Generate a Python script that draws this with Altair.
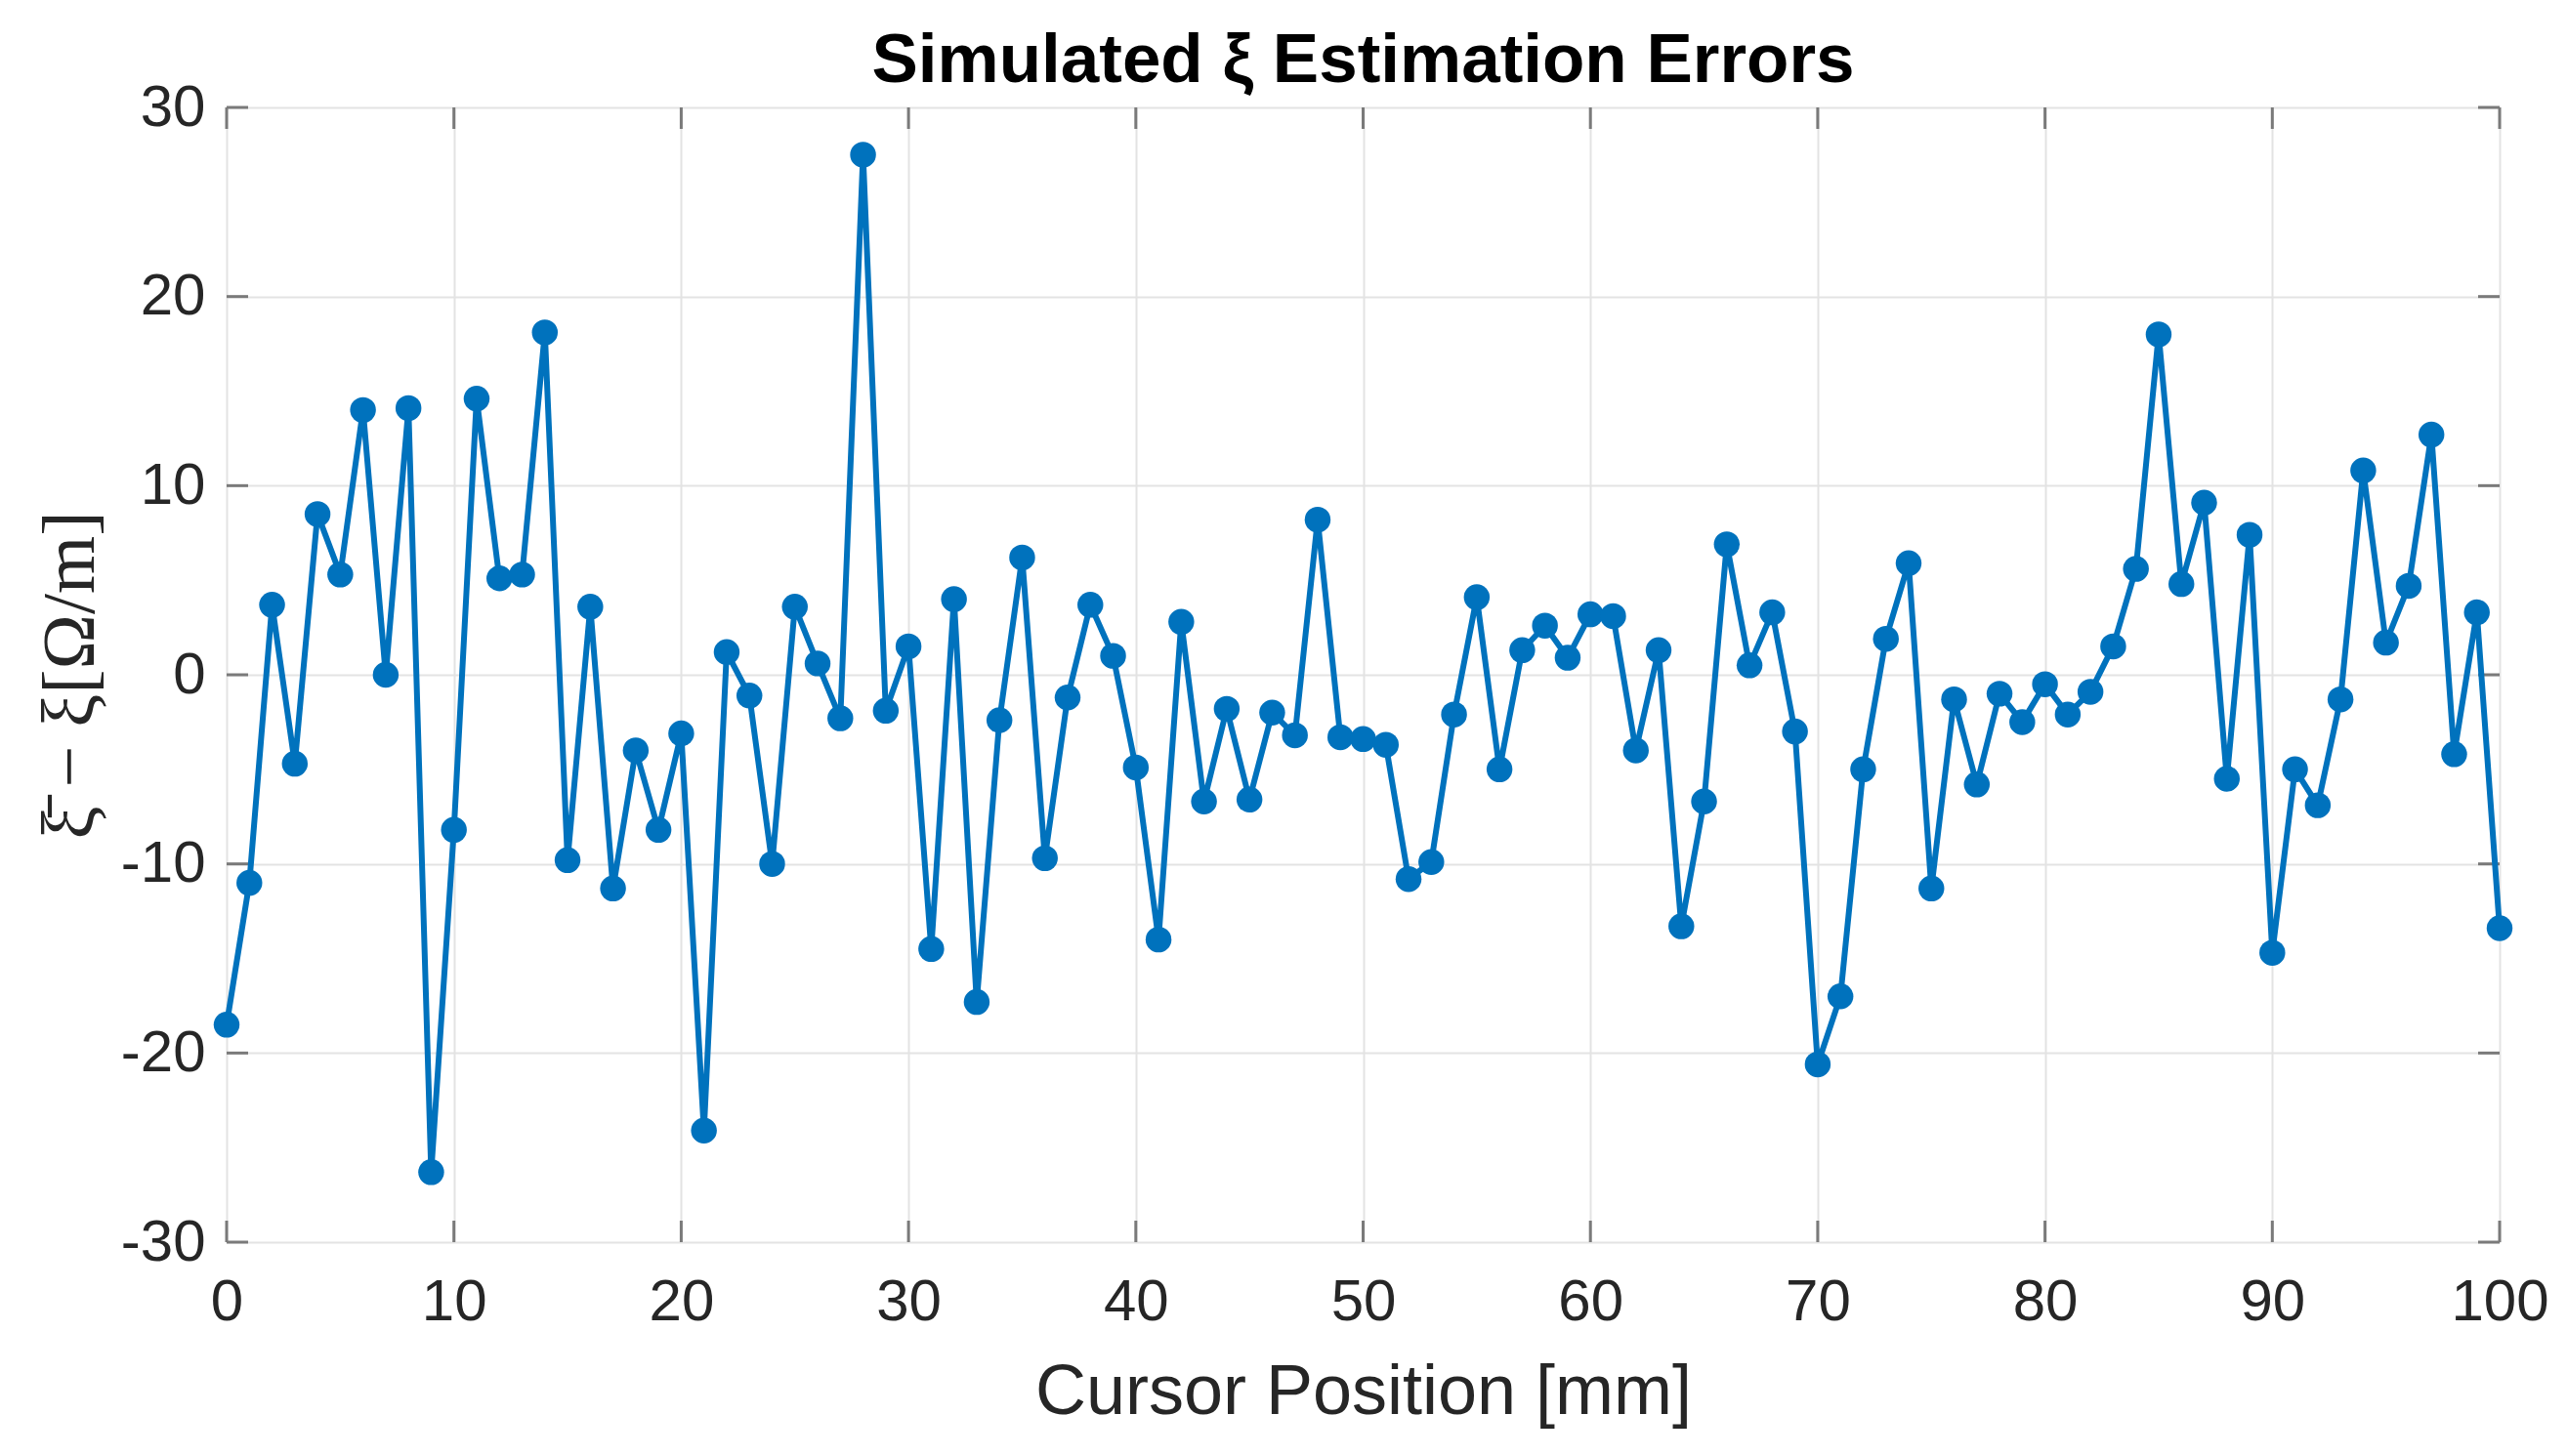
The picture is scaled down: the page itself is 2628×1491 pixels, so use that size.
import altair as alt
import pandas as pd

positions = list(range(0, 101))
errors = [
    -18.5, -11.0, 3.7, -4.7, 8.5, 5.3, 14.0, 0.0, 14.1, -26.3,
    -8.2, 14.6, 5.1, 5.3, 18.1, -9.8, 3.6, -11.3, -4.0, -8.2,
    -3.1, -24.1, 1.2, -1.1, -10.0, 3.6, 0.6, -2.3, 27.5, -1.9,
    1.5, -14.5, 4.0, -17.3, -2.4, 6.2, -9.7, -1.2, 3.7, 1.0,
    -4.9, -14.0, 2.8, -6.7, -1.8, -6.6, -2.0, -3.2, 8.2, -3.3,
    -3.4, -3.7, -10.8, -9.9, -2.1, 4.1, -5.0, 1.3, 2.6, 0.9,
    3.2, 3.1, -4.0, 1.3, -13.3, -6.7, 6.9, 0.5, 3.3, -3.0,
    -20.6, -17.0, -5.0, 1.9, 5.9, -11.3, -1.3, -5.8, -1.0, -2.5,
    -0.5, -2.1, -0.9, 1.5, 5.6, 18.0, 4.8, 9.1, -5.5, 7.4,
    -14.7, -5.0, -6.9, -1.3, 10.8, 1.7, 4.7, 12.7, -4.2, 3.3,
    -13.4,
]
x_ticks = list(range(0, 101, 10))
y_ticks = list(range(-30, 31, 10))
title_text = ["Simulated ξ Estimation Errors"]

W, H = 2327, 1162
TICK = 22
BLUE = "#0072BD"
FRAME = "#7a7a7a"

df = pd.DataFrame({"pos": positions, "err": errors})
xt = pd.DataFrame({"t": x_ticks})
yt = pd.DataFrame({"t": y_ticks})
tdf = pd.DataFrame({"title": title_text})

xscale = alt.Scale(domain=[0, 100], nice=False, zero=False)
yscale = alt.Scale(domain=[-30, 30], nice=False, zero=False)

x_enc = alt.X(
    "pos:Q", scale=xscale,
    axis=alt.Axis(
        values=x_ticks, title="Cursor Position [mm]", ticks=False, domain=False,
        grid=True, gridColor="#e3e3e3", gridWidth=2,
        labelFont="Liberation Sans", labelFontSize=60, labelColor="#262626",
        labelPadding=32, titleFont="Liberation Sans", titleFontSize=72,
        titleFontWeight="normal", titleColor="#262626", titlePadding=27,
        labelFlush=False, labelExpr="'' + datum.value",
    ),
)
y_enc = alt.Y(
    "err:Q", scale=yscale,
    axis=alt.Axis(
        values=y_ticks, title="ξ̄ − ξ[Ω/m]", ticks=False, domain=False,
        grid=True, gridColor="#e3e3e3", gridWidth=2,
        labelFont="Liberation Sans", labelFontSize=60, labelColor="#262626",
        labelPadding=22, titleFont="Liberation Serif", titleFontSize=76,
        titleFontWeight="normal", titleColor="#262626", titlePadding=12,
        labelFlush=False, labelExpr="'' + datum.value",
    ),
)

line = alt.Chart(df).mark_line(color=BLUE, strokeWidth=6).encode(x=x_enc, y=y_enc)
pts = alt.Chart(df).mark_circle(color=BLUE, size=700, opacity=1).encode(
    x=alt.X("pos:Q", scale=xscale), y=alt.Y("err:Q", scale=yscale)
)

xt_bottom = alt.Chart(xt).mark_rule(color=FRAME, strokeWidth=3).encode(
    x=alt.X("t:Q", scale=xscale), y=alt.value(H), y2=alt.value(H - TICK)
)
xt_top = alt.Chart(xt).mark_rule(color=FRAME, strokeWidth=3).encode(
    x=alt.X("t:Q", scale=xscale), y=alt.value(0), y2=alt.value(TICK)
)
yt_left = alt.Chart(yt).mark_rule(color=FRAME, strokeWidth=3).encode(
    y=alt.Y("t:Q", scale=yscale), x=alt.value(0), x2=alt.value(TICK)
)
yt_right = alt.Chart(yt).mark_rule(color=FRAME, strokeWidth=3).encode(
    y=alt.Y("t:Q", scale=yscale), x=alt.value(W), x2=alt.value(W - TICK)
)

title = alt.Chart(tdf).mark_text(
    font="Liberation Sans", fontSize=71, fontWeight="bold", color="#000000",
    align="center", baseline="alphabetic",
).encode(x=alt.value(W / 2), y=alt.value(-26), text="title:N")

chart = (
    alt.layer(xt_bottom, xt_top, yt_left, yt_right, line, pts, title)
    .properties(
        width=W, height=H,
        autosize=alt.AutoSizeParams(type="none"),
        padding={"left": 224, "top": 102, "right": 61, "bottom": 211},
    )
    .configure_view(stroke=FRAME, strokeWidth=3)
    .configure(background="white")
)

chart.save("out.html", embed_options={"renderer": "svg", "actions": False})
